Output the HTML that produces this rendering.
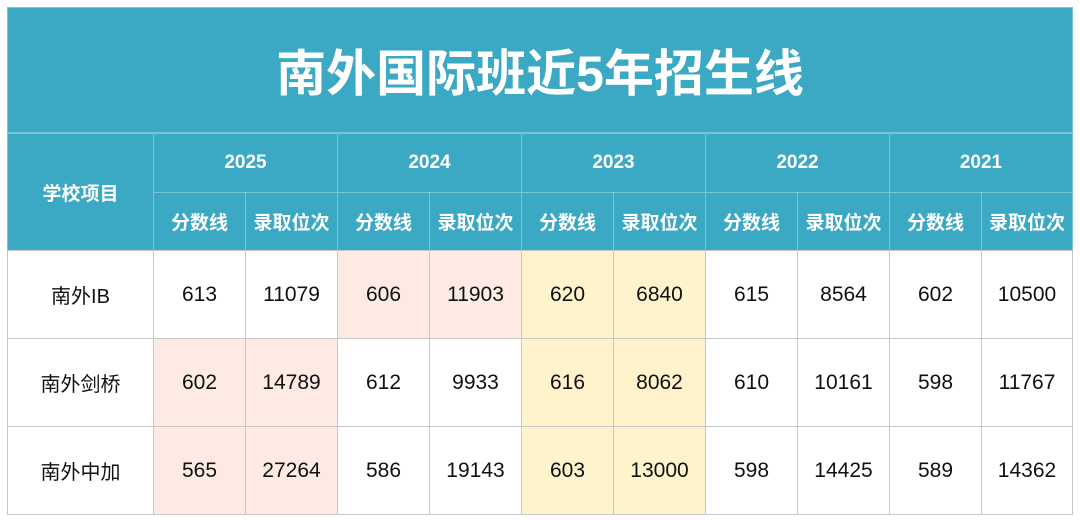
<!DOCTYPE html>
<html><head><meta charset="utf-8">
<style>
body{margin:0;width:1080px;height:521px;background:#fff;overflow:hidden;font-family:"Liberation Sans","Noto Sans CJK SC",sans-serif;position:relative}
.c{position:absolute;display:flex;align-items:center;justify-content:center;box-sizing:border-box}
.h{background:#3ba8c4;color:#fff;font-weight:bold;border:1px solid #78c3d6}
.d{color:#111;font-size:21px;border:1px solid #c8c8c8}
</style></head><body>
<div class="c" style="left:7px;top:7px;width:1066px;height:126px;background:#3ba8c4;color:#fff;font-size:50px;font-weight:bold;border:1px solid #78c3d6">南外国际班近5年招生线</div>
<div id="t"></div>
<script>
const years=['2025','2024','2023','2022','2021'];
const schools=['南外IB','南外剑桥','南外中加'];
const scores=[[613,606,620,615,602],[602,612,616,610,598],[565,586,603,598,589]];
const ranks=[[11079,11903,6840,8564,10500],[14789,9933,8062,10161,11767],[27264,19143,13000,14425,14362]];
const pink='#fdebe3',yellow='#fff3cc';
function bg(r,y,k){if(y===2)return yellow;if(y===0&&r>0)return pink;if(y===1&&r===0)return pink;return '#fff';}
const t=document.getElementById('t');
const X0=153,CW=92,L=7,R=1073;
const rowY=[250,338,426],RH=88;
function cell(cls,x,y,w,h,txt,fs,b,name){const d=document.createElement('div');d.className='c '+cls;


d.style.cssText=`left:${x}px;top:${y}px;width:${w}px;height:${h}px;font-size:${fs}px;`+(b?`background:${b};`:'');d.textContent=txt;t.appendChild(d);}
cell('h',L,133,X0-L+1,118,'学校项目',19,null,'school-header');
years.forEach((y,i)=>{const x=X0+i*2*CW;const w=i===4?R-x:2*CW+1;
cell('h',x,133,w,60,y,19,null,'year-header-'+y);
cell('h',x,192,CW+1,59,'分数线',19,null,'score-header-'+y);
cell('h',x+CW,192,w-CW,59,'录取位次',19,null,'rank-header-'+y);});
schools.forEach((s,r)=>{const y=rowY[r];
cell('d',L,y,X0-L+1,RH+1,s,20,'#fff','school-name-'+r);
years.forEach((yr,i)=>{const x=X0+i*2*CW;const w=i===4?R-x:2*CW+1;
cell('d',x,y,CW+1,RH+1,String(scores[r][i]),21,bg(r,i),'score-'+yr+'-'+r);
cell('d',x+CW,y,w-CW,RH+1,String(ranks[r][i]),21,bg(r,i),'rank-'+yr+'-'+r);});});
</script>
</body></html>
